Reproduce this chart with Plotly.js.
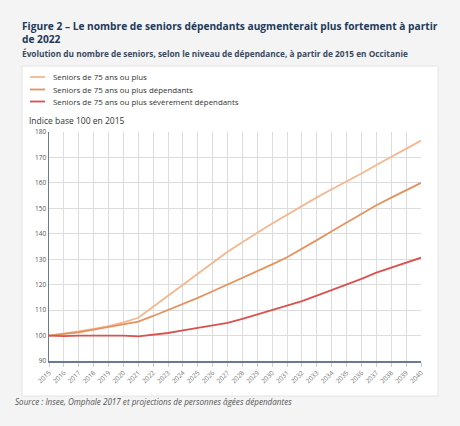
<!DOCTYPE html>
<html>
<head>
<meta charset="utf-8">
<script src="https://cdn.plot.ly/plotly-3.0.1.min.js"></script>
<style>
  html, body { margin: 0; padding: 0; background: #f4f4f4; }
  #chart { width: 460px; height: 426px; }
</style>
</head>
<body>
<div id="chart"></div>
<script>
// ---- Data ----
const years = [2015, 2016, 2017, 2018, 2019, 2020, 2021, 2022, 2023, 2024, 2025, 2026, 2027,
               2028, 2029, 2030, 2031, 2032, 2033, 2034, 2035, 2036, 2037, 2038, 2039, 2040];
const seniors75 = [100, 100.7, 101.6, 102.6, 103.7, 105.2, 107.0, 111.3, 115.7, 120.0, 124.3, 128.6, 132.9,
                   136.8, 140.4, 144.0, 147.5, 151.0, 154.3, 157.5, 160.5, 163.7, 167.0, 170.2, 173.4, 176.6];
const seniorsDependants = [100, 100.6, 101.3, 102.3, 103.4, 104.3, 105.5, 107.7, 110.0, 112.5, 114.8, 117.4, 120.0,
                           122.6, 125.3, 128.0, 130.8, 134.0, 137.5, 141.0, 144.5, 148.0, 151.2, 154.2, 157.2, 160.0];
const seniorsSeveres = [100, 99.8, 100, 100, 100, 100, 99.7, 100.4, 101.0, 102.0, 103.0, 104.0, 105.0,
                        106.6, 108.3, 110.2, 111.8, 113.5, 115.7, 117.8, 120.0, 122.3, 124.7, 126.6, 128.6, 130.6];
const seriesNames = ["Seniors de 75 ans ou plus",
                     "Seniors de 75 ans ou plus dépendants",
                     "Seniors de 75 ans ou plus sévèrement dépendants"];
const yTicks = [90, 100, 110, 120, 130, 140, 150, 160, 170, 180];

const titleText = "Figure 2 – Le nombre de seniors dépendants augmenterait plus fortement à partir<br>de 2022";
const subtitleText = "Évolution du nombre de seniors, selon le niveau de dépendance, à partir de 2015 en Occitanie";
const yTitleText = "Indice base 100 en 2015";
const sourceText = "Source : Insee, Omphale 2017 et projections de personnes âgées dépendantes";

// ---- Styles ----
const colors = ["#f4b78f", "#e4935f", "#d9524f"];
const FONT = "Open Sans, Noto Sans, sans-serif";
const W = 460, H = 426;
const M = { l: 49, r: 39, t: 132, b: 65 };
const plotW = W - M.l - M.r, plotH = H - M.t - M.b;
const px = v => (v - M.l) / plotW;
const py = v => 1 - (v - M.t) / plotH;

const seriesValues = [seniors75, seniorsDependants, seniorsSeveres];
const traces = seriesValues.map((vals, i) => ({
  type: "scatter", mode: "lines", x: years, y: vals, name: seriesNames[i],
  line: { color: colors[i], width: 1.8 }, showlegend: false, hoverinfo: "x+y"
}));

const shapes = [{
  type: "rect", xref: "paper", yref: "paper", layer: "below",
  x0: px(22), x1: px(438), y0: py(396), y1: py(66),
  fillcolor: "#ffffff", line: { color: "#e4e4e4", width: 1 }
}];
const annotations = [
  { text: titleText, x: px(20), y: py(32.5), xanchor: "left", yanchor: "middle", align: "left",
    font: { family: FONT, size: 10.2, color: "#22395a", weight: 700 } },
  { text: subtitleText, x: px(20), y: py(53.5), xanchor: "left", yanchor: "middle", align: "left",
    font: { family: FONT, size: 8.3, color: "#3b4a5e", weight: 700 } },
  { text: yTitleText, x: px(27), y: py(120), xanchor: "left", yanchor: "middle", align: "left",
    font: { family: FONT, size: 8.5, color: "#333333" } },
  { text: sourceText, x: px(13), y: py(401), xanchor: "left", yanchor: "middle", align: "left",
    font: { family: FONT, size: 8.1, color: "#555555", style: "italic" } }
];
// manual legend (sample line + label)
const legendRows = [77, 89.5, 101.5];
seriesNames.forEach((name, i) => {
  shapes.push({ type: "line", xref: "paper", yref: "paper",
    x0: px(30), x1: px(45), y0: py(legendRows[i]), y1: py(legendRows[i]),
    line: { color: colors[i], width: 1.8 } });
  annotations.push({ text: name, x: px(51), y: py(legendRows[i]), xanchor: "left", yanchor: "middle",
    align: "left", font: { family: FONT, size: 7.9, color: "#333333" } });
});
annotations.forEach(a => { a.xref = "paper"; a.yref = "paper"; a.showarrow = false; });

const layout = {
  width: W, height: H, margin: M,
  paper_bgcolor: "#f4f4f4", plot_bgcolor: "#ffffff",
  font: { family: FONT, size: 7, color: "#666666" },
  showlegend: false,
  xaxis: {
    type: "linear", range: [2015, 2040], tickmode: "array", tickvals: years, ticktext: years.map(String),
    tickangle: -45, ticks: "outside", ticklen: 4, tickcolor: "#cccccc",
    showgrid: true, gridcolor: "#dcdcdc", gridwidth: 1,
    showline: true, linecolor: "#6c7a90", linewidth: 1.5, zeroline: false,
    tickfont: { family: FONT, size: 6.5, color: "#777777" }, fixedrange: true
  },
  yaxis: {
    range: [90, 180], tickmode: "array", tickvals: yTicks, ticktext: yTicks.map(String),
    showgrid: true, gridcolor: "#dcdcdc", gridwidth: 1,
    showline: true, linecolor: "#6c7a90", linewidth: 1.5, zeroline: false,
    ticks: "", tickfont: { family: FONT, size: 6.5, color: "#555555" }, fixedrange: true
  },
  shapes: shapes,
  annotations: annotations
};

Plotly.newPlot("chart", traces, layout, { displayModeBar: false, staticPlot: true });
</script>
</body>
</html>
